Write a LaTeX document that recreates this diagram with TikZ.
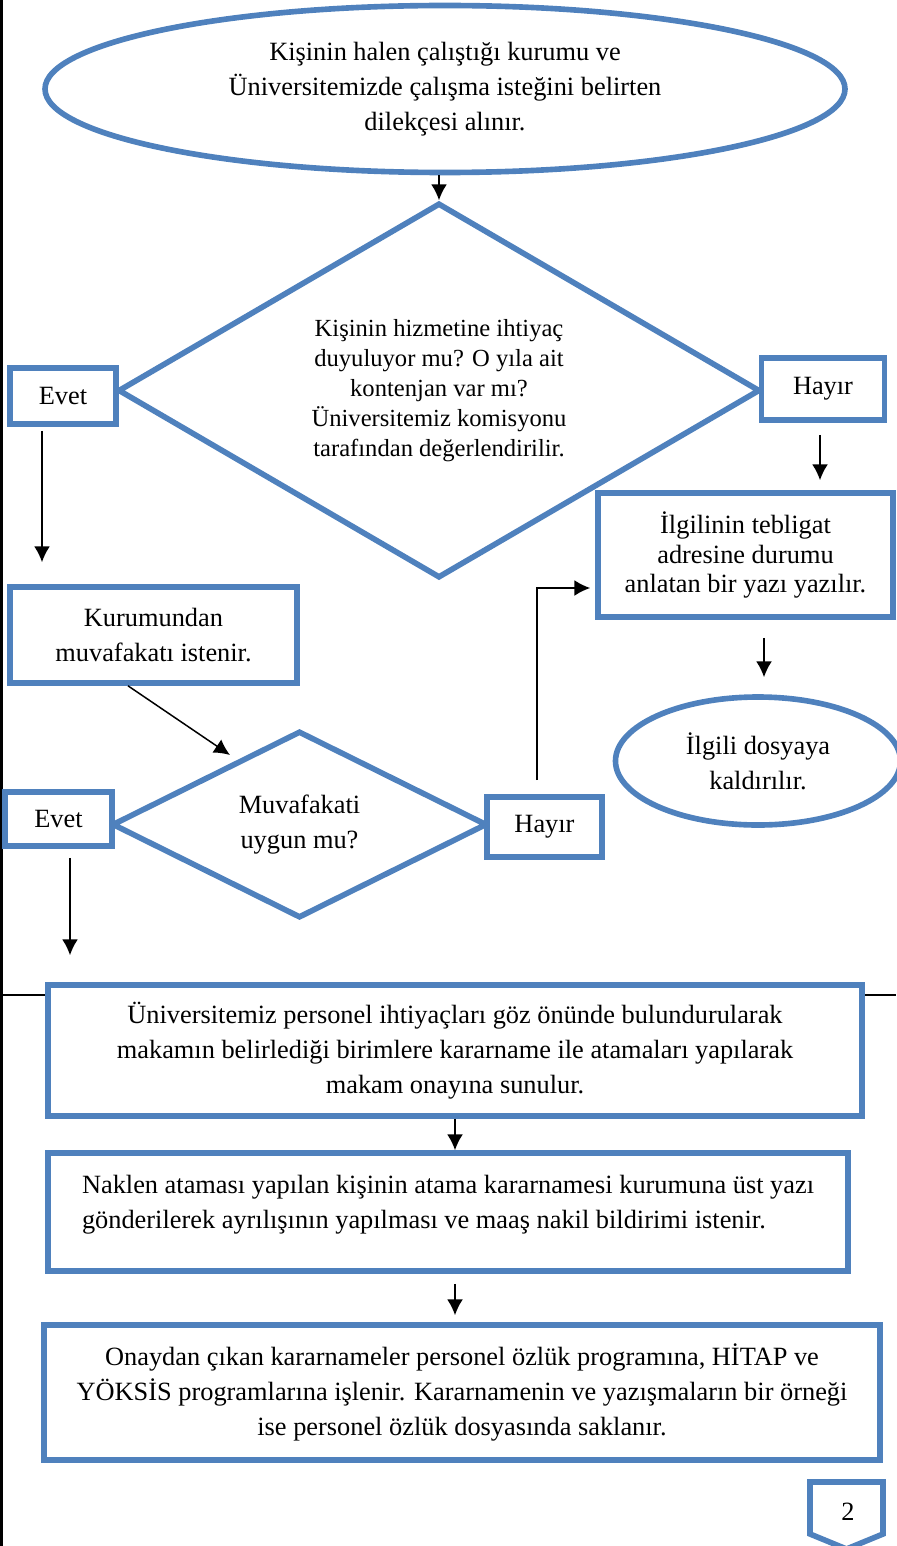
\documentclass[tikz,border=0pt]{standalone}
\usepackage{fontspec}
\setmainfont{Liberation Serif}
\usepackage{tikz}
\usetikzlibrary{shapes}
\usetikzlibrary{arrows.meta}
\definecolor{flowblue}{HTML}{4F81BD}
\tikzstyle{startstop} = [ellipse, minimum width=16cm, minimum height=3.34cm, inner sep=0pt, align=center, draw=flowblue, line width=3.2pt, fill=white, font=\fontsize{15}{20}\selectfont]
\tikzstyle{decision} = [diamond, shape aspect=1.7, inner sep=0pt, align=center, draw=flowblue, line width=3.2pt, fill=white, font=\fontsize{15}{20}\selectfont]
\tikzstyle{process} = [rectangle, inner sep=0pt, align=center, draw=flowblue, line width=3.2pt, fill=white, font=\fontsize{15}{20}\selectfont]
\tikzstyle{answer} = [rectangle, inner sep=0pt, draw=flowblue, line width=3.2pt, fill=white, font=\fontsize{15}{20}\selectfont]
\tikzstyle{pagenum} = [draw=flowblue, line width=3.2pt, fill=white]
\tikzstyle{pageline} = [line width=1.6pt, black]
\tikzstyle{arrow} = [line width=0.85pt, -{Latex[length=9pt, width=9pt]}]

\begin{document}
\begin{tikzpicture}[node distance=2cm]
    \useasboundingbox (0,0) rectangle (17.92,-30.92);
    \draw[pageline] (0.03,0) -- (0.03,-30.92);
    \draw[pageline] (0,-19.9) -- (17.92,-19.9);

    \node(top)[startstop] at (8.9,-1.78) {Kişinin halen çalıştığı kurumu ve\\Üniversitemizde çalışma isteğini belirten\\dilekçesi alınır.};
    \node(dec1)[decision, minimum width=12.84cm, minimum height=7.5cm, below of=top, yshift=-4.03cm, xshift=-0.12cm,
      font=\fontsize{14}{17}\selectfont]{Kişinin hizmetine ihtiyaç\\duyuluyor mu? O yıla ait\\kontenjan var mı?\\Üniversitemiz komisyonu\\tarafından değerlendirilir.};
    \node(evet1)[answer, minimum width=2.12cm, minimum height=1.12cm, left of=dec1, xshift=-5.52cm, yshift=-0.11cm]{Evet};
    \node(hayir1)[answer, minimum width=2.46cm, minimum height=1.24cm, right of=dec1, xshift=5.68cm, yshift=0.03cm]{Hayır};
    \node(ilgi)[process, minimum width=5.9cm, minimum height=2.48cm, below of=hayir1, xshift=-1.55cm, yshift=-1.32cm,
      font=\fontsize{15}{17}\selectfont]{İlgilinin tebligat\\adresine durumu\\anlatan bir yazı yazılır.};
    \node(dosya)[startstop, minimum width=5.7cm, minimum height=2.56cm, below of=ilgi, xshift=0.25cm, yshift=-2.12cm]{İlgili dosyaya\\kaldırılır.};

    \node(kurum)[process, minimum width=5.74cm, minimum height=1.92cm, below of=evet1, xshift=1.81cm, yshift=-2.78cm]{Kurumundan\\muvafakatı istenir.};
    \node(dec2)[decision, minimum width=7.5cm, minimum height=3.74cm, below of=kurum, xshift=2.92cm, yshift=-1.79cm]{Muvafakati\\uygun mu?};
    \node(evet2)[answer, minimum width=2.14cm, minimum height=1.08cm, left of=dec2, xshift=-2.82cm, yshift=0.11cm]{Evet};
    \node(hayir2)[answer, minimum width=2.3cm, minimum height=1.2cm, right of=dec2, xshift=2.9cm, yshift=-0.05cm]{Hayır};
    \coordinate(kd) at ([shift={(-1.39,1.39)}]dec2.center);

    \node(atama)[process, minimum width=16.28cm, minimum height=2.62cm, below of=dec2, xshift=3.11cm, yshift=-2.52cm]{Üniversitemiz personel ihtiyaçları göz önünde bulundurularak\\makamın belirlediği birimlere kararname ile atamaları yapılarak\\makam onayına sunulur.};
    \node(naklen)[process, minimum width=16cm, minimum height=2.36cm, below of=atama, xshift=-0.14cm, yshift=-1.23cm,
      align=left, text depth=0.42cm]{Naklen ataması yapılan kişinin atama kararnamesi kurumuna üst yazı\\gönderilerek ayrılışının yapılması ve maaş nakil bildirimi istenir.};
    \node(onay)[process, minimum width=16.72cm, minimum height=2.7cm, below of=naklen, xshift=0.28cm, yshift=-1.61cm]{Onaydan çıkan kararnameler personel özlük programına, HİTAP ve\\YÖKSİS programlarına işlenir. Kararnamenin ve yazışmaların bir örneği\\ise personel özlük dosyasında saklanır.};

    \draw[pagenum] (16.2,-29.64) -- (17.66,-29.64) -- (17.66,-30.68) -- (16.93,-30.98) -- (16.2,-30.68) -- cycle;
    \node(sayfa)[font=\fontsize{15}{20}\selectfont] at (16.96,-30.24) {2};

    \draw[arrow] (dec1.north |- top.south) -- (dec1.north);
    \draw[arrow, shorten <=0.08cm, shorten >=0.44cm] ([xshift=-0.42cm]evet1.south) -- ([xshift=-0.42cm]evet1.south |- kurum.north);
    \draw[arrow, shorten <=0.24cm, shorten >=0.2cm] ([xshift=-0.06cm]hayir1.south) -- ([xshift=-0.06cm]hayir1.south |- ilgi.north);
    \draw[arrow, shorten <=0.36cm, shorten >=0.34cm] ([xshift=0.37cm]ilgi.south) -- ([xshift=0.37cm]ilgi.south |- dosya.north);
    \draw[arrow] ([xshift=-0.51cm]kurum.south) -- (kd);
    \draw[arrow, shorten <=0.18cm, shorten >=0.54cm] ([xshift=0.23cm]evet2.south) -- ([xshift=0.23cm]evet2.south |- atama.north);
    \draw[arrow, shorten <=0.28cm, shorten >=0.1cm] ([xshift=-0.15cm]hayir2.north) |- ([yshift=-0.66cm]ilgi.west);
    \draw[arrow] (atama.south) -- (atama.south |- naklen.north);
    \draw[arrow, shorten <=0.2cm, shorten >=0.14cm] ([xshift=0.14cm]naklen.south) -- ([xshift=0.14cm]naklen.south |- onay.north);
\end{tikzpicture}
\end{document}
